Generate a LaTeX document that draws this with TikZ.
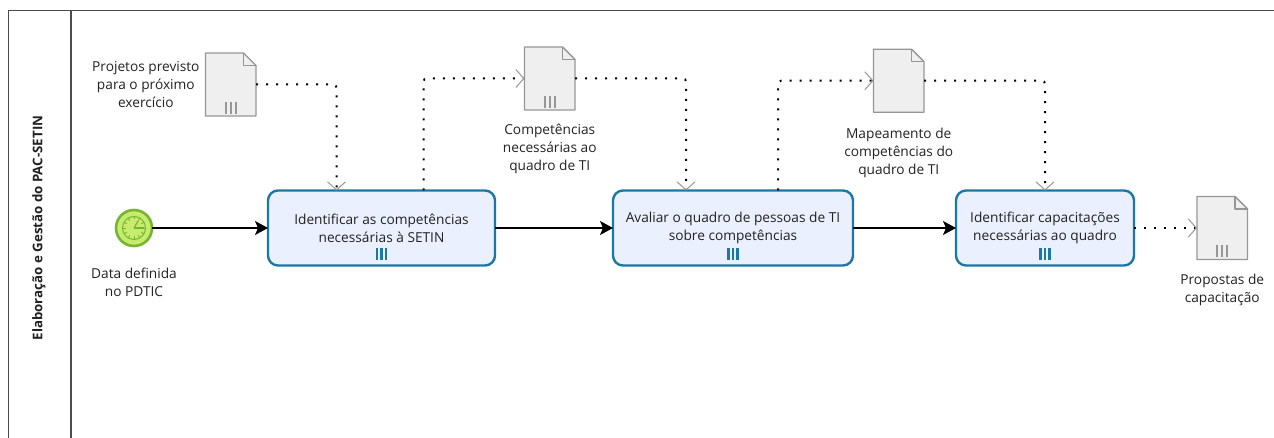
\documentclass[tikz,border=0pt]{standalone}
\usepackage{fontspec}
\setmainfont{Open Sans}
\usetikzlibrary{arrows.meta}
\usetikzlibrary{positioning}
\definecolor{taskline}{HTML}{1B77A6}
\definecolor{taskfill}{HTML}{EAF0FD}
\definecolor{docline}{HTML}{969696}
\definecolor{docfill}{HTML}{EFEFEF}
\definecolor{eventline}{HTML}{74B72E}
\definecolor{eventfill}{HTML}{C8EA6E}
\definecolor{textcol}{HTML}{222222}
\tikzstyle{every picture}=[x=1pt, y=-1pt]
\tikzstyle{every node}=[font=\fontsize{13.7}{18}\selectfont, text=textcol, inner sep=0pt, outer sep=0pt, align=center]
\tikzstyle{task}=[draw=taskline, fill=taskfill, line width=2.4pt, rectangle, rounded corners=10pt,
  minimum height=75pt]
\tikzstyle{doc}=[minimum width=50.5pt, minimum height=63pt]
\tikzstyle{docshape}=[draw=docline, fill=docfill, line width=1.4pt, line join=round]
\tikzstyle{docbar}=[draw=docline, line width=2pt]
\tikzstyle{taskbar}=[draw=taskline, line width=2.4pt]
\tikzstyle{flow}=[draw=black, line width=1.5pt, -{Stealth[length=13pt, width=14pt, inset=3pt]}]
\tikzstyle{assoc}=[draw=black, line width=2pt, dash pattern=on 2pt off 8pt, rounded corners=3pt,
  -{Straight Barb[length=8pt, width=18pt, line width=1pt, color=docline]}]
\tikzstyle{pool}=[draw=black!70, line width=1.6pt]

\begin{document}
\begin{tikzpicture}
\useasboundingbox (0,0) rectangle (1274,438);

% pool
\coordinate (PoolTL) at (8.5,10.5);
\coordinate (PoolTR) at (1274,10.5);
\coordinate (PoolBL) at (8.5,438);
\coordinate (DivTop) at (71,10.5);
\coordinate (DivBot) at (71,438);
\draw[pool] (PoolBL) -- (PoolTL) -- (PoolTR);
\draw[pool] (DivTop) -- (DivBot);
\node[rotate=90, font=\fontsize{13.3}{18}\selectfont\bfseries] (PoolTitle) at (39,228) {Elaboração e Gestão do PAC-SETIN};

% event
\node[circle, draw=eventline, fill=eventfill, line width=2.6pt, minimum size=36pt] (Start) at (134,228) {};
\draw[eventline, line width=1pt] (Start.center) circle (11.5pt);
\foreach \a in {0,30,...,330} {
  \draw[eventline, line width=.8pt] ([shift={(\a:8.5pt)}] Start.center) -- ([shift={(\a:11.5pt)}] Start.center);
}
\draw[eventline, line width=1.2pt] (Start.center) -- ([xshift=10pt] Start.center);
\draw[eventline, line width=1.2pt] (Start.center) -- ([shift={(60:8pt)}] Start.center);
\node[below=22pt of Start] (StartLabel) {Data definida\\no PDTIC};

% tasks
\node[task, minimum width=227pt] (Task1) at (381.5,228) {Identificar as competências\\necessárias à SETIN};
\node[task, minimum width=240pt, right=118pt of Task1] (Task2) {Avaliar o quadro de pessoas de TI\\sobre competências};
\node[task, minimum width=178pt, right=103pt of Task2] (Task3) {Identificar capacitações\\necessárias ao quadro};
\foreach \t in {Task1,Task2,Task3} {
  \foreach \i in {-4.5,0,4.5} {
    \draw[taskbar] ([xshift=\i pt, yshift=-20pt] \t.center) -- ([xshift=\i pt, yshift=-32pt] \t.center);
  }
}

% documents
\node[doc] (Doc1) at (230.75,84.5) {};
\node[doc] (Doc2) at (549.75,78.5) {};
\node[doc] (Doc3) at (898.75,80.75) {};
\node[doc, right=63pt of Task3] (Doc4) {};
\foreach \d in {Doc1,Doc2,Doc3,Doc4} {
  \draw[docshape] (\d.south west) -- (\d.north west) -- ([xshift=-12.5pt] \d.north east)
    -- ([yshift=-12.5pt] \d.north east) -- (\d.south east) -- cycle;
  \draw[docshape, fill=none] ([xshift=-12.5pt] \d.north east) -- ([xshift=-12.5pt, yshift=-12.5pt] \d.north east)
    -- ([yshift=-12.5pt] \d.north east);
}
\foreach \d in {Doc1,Doc2,Doc4} {
  \foreach \i in {-5,0,5} {
    \draw[docbar] ([xshift=\i pt, yshift=2pt] \d.south) -- ([xshift=\i pt, yshift=14pt] \d.south);
  }
}

\node[left=6pt of Doc1] (Doc1Label) {Projetos previsto\\para o próximo\\exercício};
\node[below=14pt of Doc2] (Doc2Label) {Competências\\necessárias ao\\quadro de TI};
\node[below=16pt of Doc3] (Doc3Label) {Mapeamento de\\competências do\\quadro de TI};
\node[below=15pt of Doc4] (Doc4Label) {Propostas de\\capacitação};

% sequence flows
\draw[flow] (Start) -- (Task1);
\draw[flow] (Task1) -- (Task2);
\draw[flow] (Task2) -- (Task3);

% associations
\draw[assoc] (Doc1.east) -| ([xshift=-45pt] Task1.north);
\draw[assoc] ([xshift=42pt] Task1.north) |- (Doc2.west);
\draw[assoc] (Doc2.east) -| ([xshift=-47pt] Task2.north);
\draw[assoc] ([xshift=45pt] Task2.north) |- (Doc3.west);
\draw[assoc] (Doc3.east) -| (Task3.north);
\draw[assoc] (Task3.east) -- (Doc4.west);
\end{tikzpicture}
\end{document}
